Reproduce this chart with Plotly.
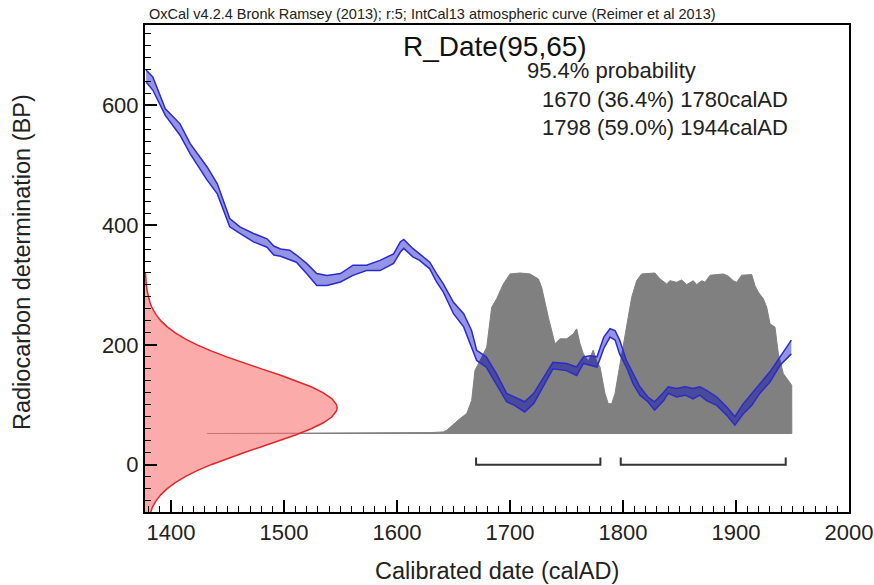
import plotly.graph_objects as go

# ---------------- data ----------------
# IntCal13 calibration curve band (upper / lower edge, BP) vs calendar year (AD)
cal_years = [1378, 1384, 1395, 1408, 1417, 1432, 1441, 1452, 1461, 1473, 1485, 1491, 1497, 1505,
             1511, 1520, 1529, 1538, 1550, 1561, 1573, 1585, 1597, 1603, 1606, 1614, 1620, 1629,
             1635, 1641, 1650, 1659, 1666, 1670.5, 1679, 1688, 1697, 1704, 1713, 1721, 1729.5,
             1738, 1750, 1759, 1765, 1771, 1777, 1783, 1788.5, 1793, 1797, 1803, 1809, 1815,
             1822, 1828, 1836, 1840, 1847.5, 1855, 1862, 1868, 1874, 1883, 1892, 1899, 1906.5,
             1914, 1921, 1930, 1939, 1949]
cal_upper = [659, 647, 594, 569, 536, 497, 469, 411, 397, 386, 377, 365, 360, 358,
             350, 336, 319, 316, 319, 333, 333, 341, 352, 372, 376, 361, 352, 338,
             319, 302, 271, 252, 224, 191, 180, 152, 119, 113, 105, 119, 146,
             171, 169, 163, 180, 182, 180, 213, 227, 224, 208, 174, 152, 130,
             113, 105, 121, 130, 127, 130, 127, 130, 124, 113, 96, 80, 102,
             119, 135, 155, 180, 208]
cal_lower = [639, 625, 583, 550, 519, 475, 452, 397, 386, 372, 363, 350, 348, 342,
             338, 319, 299, 299, 305, 316, 324, 324, 336, 355, 361, 347, 341, 327,
             305, 288, 252, 230, 196, 174, 163, 135, 105, 99, 88, 102, 132,
             160, 157, 149, 169, 166, 163, 194, 213, 208, 185, 163, 135, 116,
             105, 91, 107, 119, 113, 116, 110, 116, 107, 99, 82, 66, 85,
             99, 119, 138, 166, 185]

# Radiocarbon measurement R_Date(95,65): relative probability vs BP
red_bp = [-90, -80, -70, -60, -50, -40, -30, -20, -10, 0, 10, 20, 30, 40, 50, 60, 70, 80, 90, 95,
          100, 110, 120, 130, 140, 150, 160, 170, 180, 190, 200, 210, 220, 230, 240, 250, 260,
          270, 280, 290, 300, 310, 320]
red_prob = [0.0175, 0.0267, 0.0399, 0.0582, 0.0831, 0.1157, 0.1574, 0.2091, 0.2712, 0.3437, 0.4253,
            0.5139, 0.6065, 0.6990, 0.7869, 0.8650, 0.9287, 0.9737, 0.9970, 1.0,
            0.9970, 0.9737, 0.9287, 0.8650, 0.7869, 0.6990, 0.6065, 0.5139, 0.4253, 0.3437,
            0.2712, 0.2091, 0.1574, 0.1157, 0.0831, 0.0582, 0.0399, 0.0267, 0.0175, 0.0111,
            0.0069, 0.0042, 0.0025]

# Calibrated date: relative probability vs calendar year
gray_years = [1432, 1600, 1630, 1641, 1644, 1655.8, 1661.7, 1666.1, 1669, 1673.5, 1679.4, 1683.8,
              1688.2, 1694.1, 1700, 1708.9, 1717.7, 1725.1, 1728, 1733.9, 1739.8, 1744.3, 1750.2,
              1756, 1759, 1762, 1764.9, 1769.3, 1773.7, 1776.7, 1779.7, 1784.1, 1787, 1790,
              1792.9, 1795.9, 1798.8, 1803.3, 1807.7, 1812.1, 1816.5, 1828.3, 1832.8, 1838.7,
              1841.6, 1847.5, 1851.9, 1856.4, 1862.2, 1865.2, 1869.7, 1872.6, 1877, 1888.8,
              1893.2, 1897.6, 1900.6, 1905, 1913.9, 1916.8, 1919.8, 1924.2, 1927.2, 1930.1,
              1934.5, 1937.5, 1941.9, 1946.3, 1949.3, 1949.4]
gray_prob = [0.0, 0.003, 0.006, 0.01, 0.02, 0.093, 0.124, 0.207, 0.393, 0.455, 0.538, 0.787,
             0.839, 0.932, 0.994, 1.0, 0.994, 0.963, 0.911, 0.725, 0.559, 0.590, 0.590,
             0.621, 0.652, 0.559, 0.497, 0.45, 0.52, 0.45, 0.414, 0.248, 0.186, 0.186,
             0.248, 0.373, 0.497, 0.663, 0.849, 0.952, 0.994, 1.0, 0.963, 0.932,
             0.952, 0.942, 0.957, 0.928, 0.952, 0.928, 0.952, 0.942, 0.986, 0.994,
             0.980, 0.952, 0.942, 0.986, 0.990, 0.921, 0.880, 0.839, 0.787, 0.683,
             0.663, 0.497, 0.373, 0.331, 0.300, 0.0]

# 95.4% ranges
range_start = [1670, 1798]
range_end = [1780, 1944]

x_ticks = [1400, 1500, 1600, 1700, 1800, 1900, 2000]
y_ticks = [0, 200, 400, 600]

# ---------------- styling constants ----------------
X_MIN, X_MAX = 1377, 2000
Y_MIN, Y_MAX = -79, 734
RED_SCALE = 170       # years for peak width of red curve
GRAY_BASE = 52        # BP base of the calibrated distribution
GRAY_SCALE = 268      # BP height of calibrated distribution peak
BRACKET_Y = 0
BRACKET_TICK = 12

FONT = "Liberation Sans, Arial, sans-serif"
TXT = "#222222"

fig = go.Figure()

# calibrated distribution (gray)
gy = [GRAY_BASE + p * GRAY_SCALE for p in gray_prob]
fig.add_trace(go.Scatter(
    x=gray_years + gray_years[::-1],
    y=gy + [GRAY_BASE] * len(gray_years),
    mode="lines", fill="toself", fillcolor="#808080",
    line=dict(color="#808080", width=1), hoverinfo="skip"))

# calibration curve band (blue)
fig.add_trace(go.Scatter(x=cal_years, y=cal_lower, mode="lines",
                         line=dict(color="#2b2bcc", width=1.5), hoverinfo="skip"))
fig.add_trace(go.Scatter(x=cal_years, y=cal_upper, mode="lines", fill="tonexty",
                         fillcolor="rgba(0,0,190,0.42)",
                         line=dict(color="#2b2bcc", width=1.5), hoverinfo="skip"))

# radiocarbon measurement (red)
rx = [X_MIN + p * RED_SCALE for p in red_prob]
fig.add_trace(go.Scatter(
    x=[X_MIN] + rx + [X_MIN], y=[red_bp[0]] + red_bp + [red_bp[-1]],
    mode="lines", fill="toself", fillcolor="rgba(250,110,110,0.58)",
    line=dict(color="rgba(0,0,0,0)", width=0), hoverinfo="skip"))
fig.add_trace(go.Scatter(x=rx, y=red_bp, mode="lines",
                         line=dict(color="#e3262b", width=1.5), hoverinfo="skip"))

# range brackets
for a, b in zip(range_start, range_end):
    fig.add_trace(go.Scatter(
        x=[a, a, b, b],
        y=[BRACKET_Y + BRACKET_TICK, BRACKET_Y, BRACKET_Y, BRACKET_Y + BRACKET_TICK],
        mode="lines", line=dict(color="#333333", width=2), hoverinfo="skip"))

axis_common = dict(showline=True, linecolor="black", linewidth=2, mirror=True,
                   ticks="inside", ticklen=12, tickwidth=1.5, tickcolor="black",
                   showgrid=False, zeroline=False, automargin=False,
                   tickfont=dict(family=FONT, size=22, color=TXT))

fig.update_xaxes(range=[X_MIN, X_MAX], tickvals=x_ticks,
                 minor=dict(ticks="inside", ticklen=6, tickwidth=1, tickcolor="black",
                            dtick=10, tick0=0, showgrid=False),
                 **axis_common)
fig.update_yaxes(range=[Y_MIN, Y_MAX], tickvals=y_ticks,
                 minor=dict(ticks="inside", ticklen=6, tickwidth=1, tickcolor="black",
                            dtick=20, tick0=0, showgrid=False),
                 **axis_common)

W, H = 874, 585
L, R, T, B = 145, 25, 25, 73
pw, ph = W - L - R, H - T - B


def px(x):
    return (x - L) / pw


def py(y):
    return (H - B - y) / ph


annotations = [
    dict(text="OxCal v4.2.4 Bronk Ramsey (2013); r:5; IntCal13 atmospheric curve (Reimer et al 2013)",
         x=px(147), y=py(24), xanchor="left", yanchor="bottom",
         font=dict(family=FONT, size=14.5, color=TXT)),
    dict(text="R_Date(95,65)", x=px(495), y=py(46), xanchor="center", yanchor="middle",
         font=dict(family=FONT, size=28, color="#111111")),
    dict(text="95.4% probability", x=px(525), y=py(70), xanchor="left", yanchor="middle",
         font=dict(family=FONT, size=22, color=TXT)),
    dict(text="1670 (36.4%) 1780calAD", x=px(540), y=py(99), xanchor="left", yanchor="middle",
         font=dict(family=FONT, size=22, color=TXT)),
    dict(text="1798 (59.0%) 1944calAD", x=px(540), y=py(128), xanchor="left", yanchor="middle",
         font=dict(family=FONT, size=22, color=TXT)),
    dict(text="Radiocarbon determination (BP)", x=px(22), y=py(262), textangle=-90,
         xanchor="center", yanchor="middle",
         font=dict(family=FONT, size=23.5, color=TXT)),
    dict(text="Calibrated date (calAD)", x=px(497), y=py(571), xanchor="center", yanchor="middle",
         font=dict(family=FONT, size=23.5, color=TXT)),
]
for a in annotations:
    a.update(xref="paper", yref="paper", showarrow=False)

fig.update_layout(width=W, height=H, margin=dict(l=L, r=R, t=T, b=B, autoexpand=False),
                  paper_bgcolor="white", plot_bgcolor="white",
                  showlegend=False, annotations=annotations)

fig.write_html("out.html", config={"displayModeBar": False},
               post_script="document.body.style.margin='0';")
